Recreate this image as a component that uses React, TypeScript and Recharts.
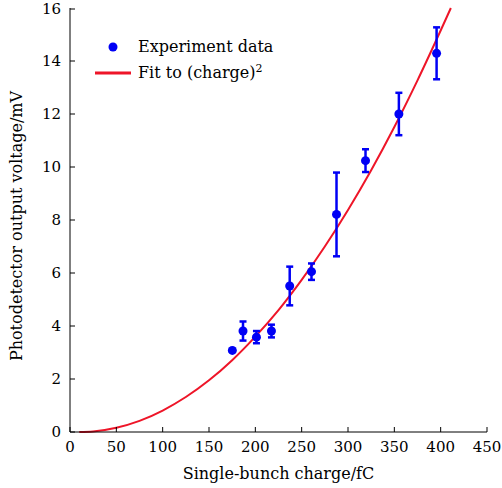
import { ComposedChart, Scatter, Line, XAxis, YAxis, ErrorBar } from "recharts";

// measured points
const charge = [175.2, 186.7, 201.2, 217.4, 237.1, 260.6, 287.6, 318.9, 354.9, 395.6];
const voltage = [3.08, 3.81, 3.58, 3.81, 5.51, 6.05, 8.21, 10.24, 12.0, 14.29];
const voltageErr = [0.05, 0.36, 0.23, 0.24, 0.73, 0.31, 1.58, 0.43, 0.8, 0.98];

// fitted curve
const fitCharge = [10, 25, 50, 75, 100, 125, 150, 175, 200, 225, 250, 275, 300, 325, 350, 375, 400, 411];
const fitVoltage = [0, 0.02, 0.16, 0.42, 0.81, 1.32, 1.95, 2.71, 3.6, 4.6, 5.74, 7.0, 8.38, 9.88, 11.51, 13.27, 15.15, 16.0];

const xTicks = [0, 50, 100, 150, 200, 250, 300, 350, 400, 450];
const yTicks = [0, 2, 4, 6, 8, 10, 12, 14, 16];

const BLUE = "#0000f5";
const RED = "#ee1528";
const FONT = "'DejaVu Serif', serif";

const points = charge.map((c, i) => ({ x: c, y: voltage[i], err: voltageErr[i] }));
const fit = fitCharge.map((c, i) => ({ x: c, y: fitVoltage[i] }));

const TICK_MARGIN_X = 8;
const TICK_MARGIN_Y = 9;

const XTick = (props: any) => {
    const { x, y, payload } = props;
    const axisY = y - TICK_MARGIN_X;
    return (
        <g>
            <line x1={x} x2={x} y1={axisY} y2={axisY - 5} stroke="#000" strokeWidth={1} />
            <text x={x} y={axisY + 20} textAnchor="middle" fontSize={15} fontFamily={FONT} fill="#000">
                {payload.value}
            </text>
        </g>
    );
};

const YTick = (props: any) => {
    const { x, y, payload } = props;
    const axisX = x + TICK_MARGIN_Y;
    return (
        <g>
            <line x1={axisX} x2={axisX + 5} y1={y} y2={y} stroke="#000" strokeWidth={1} />
            <text x={axisX - 9} y={y + 5} textAnchor="end" fontSize={15} fontFamily={FONT} fill="#000">
                {payload.value}
            </text>
        </g>
    );
};

const XLabel = (props: any) => {
    const vb = props.viewBox;
    return (
        <text x={vb.x + vb.width / 2} y={vb.y + 47} textAnchor="middle" fontSize={16} fontFamily={FONT} fill="#000">
            Single-bunch charge/fC
        </text>
    );
};

const YLabel = (props: any) => {
    const vb = props.viewBox;
    const cx = 22;
    const cy = vb.y + vb.height / 2 + 6;
    return (
        <text x={cx} y={cy} transform={`rotate(-90 ${cx} ${cy})`} textAnchor="middle" fontSize={16} fontFamily={FONT} fill="#000">
            Photodetector output voltage/mV
        </text>
    );
};

const Dot = (props: any) => <circle cx={props.cx} cy={props.cy} r={4.5} fill={BLUE} />;

export default function App() {
    return (
        <div style={{ position: "absolute", left: 0, top: 0, width: 502, height: 488, background: "#fff" }}>
            <ComposedChart width={502} height={488} margin={{ top: 8, right: 15, bottom: 0, left: 0 }}>
                <XAxis
                    xAxisId="main"
                    dataKey="x"
                    type="number"
                    domain={[0, 450]}
                    ticks={xTicks}
                    height={56}
                    tickLine={false}
                    tickSize={0}
                    tickMargin={TICK_MARGIN_X}
                    tick={<XTick />}
                    axisLine={{ stroke: "#000" }}
                    label={<XLabel />}
                />
                <XAxis xAxisId="top" orientation="top" type="number" domain={[0, 450]} height={0} tick={false} tickLine={false} axisLine={{ stroke: "#000" }} />
                <YAxis
                    yAxisId="main"
                    dataKey="y"
                    type="number"
                    domain={[0, 16]}
                    ticks={yTicks}
                    width={70}
                    tickLine={false}
                    tickSize={0}
                    tickMargin={TICK_MARGIN_Y}
                    tick={<YTick />}
                    axisLine={{ stroke: "#000" }}
                    label={<YLabel />}
                />
                <YAxis yAxisId="right" orientation="right" type="number" domain={[0, 16]} width={0} tick={false} tickLine={false} axisLine={{ stroke: "#000" }} />
                <Line
                    xAxisId="main"
                    yAxisId="main"
                    data={fit}
                    dataKey="y"
                    type="monotone"
                    stroke={RED}
                    strokeWidth={2}
                    dot={false}
                    isAnimationActive={false}
                />
                <Scatter xAxisId="main" yAxisId="main" data={points} dataKey="y" fill={BLUE} shape={<Dot />} isAnimationActive={false}>
                    <ErrorBar dataKey="err" direction="y" width={3.5} strokeWidth={2.5} stroke={BLUE} isAnimationActive={false} />
                </Scatter>
            </ComposedChart>
            <div style={{ position: "absolute", left: 92, top: 34, fontFamily: FONT, fontSize: 16, color: "#000", lineHeight: "26px" }}>
                <div style={{ display: "flex", alignItems: "center" }}>
                    <svg width={46} height={26}>
                        <circle cx={21} cy={13} r={4.5} fill={BLUE} />
                    </svg>
                    <span>Experiment data</span>
                </div>
                <div style={{ display: "flex", alignItems: "center" }}>
                    <svg width={46} height={26}>
                        <line x1={3} x2={39} y1={13} y2={13} stroke={RED} strokeWidth={3} />
                    </svg>
                    <span>
                        Fit to (charge)<sup style={{ fontSize: 11, verticalAlign: "6px", lineHeight: 0 }}>2</sup>
                    </span>
                </div>
            </div>
        </div>
    );
}
